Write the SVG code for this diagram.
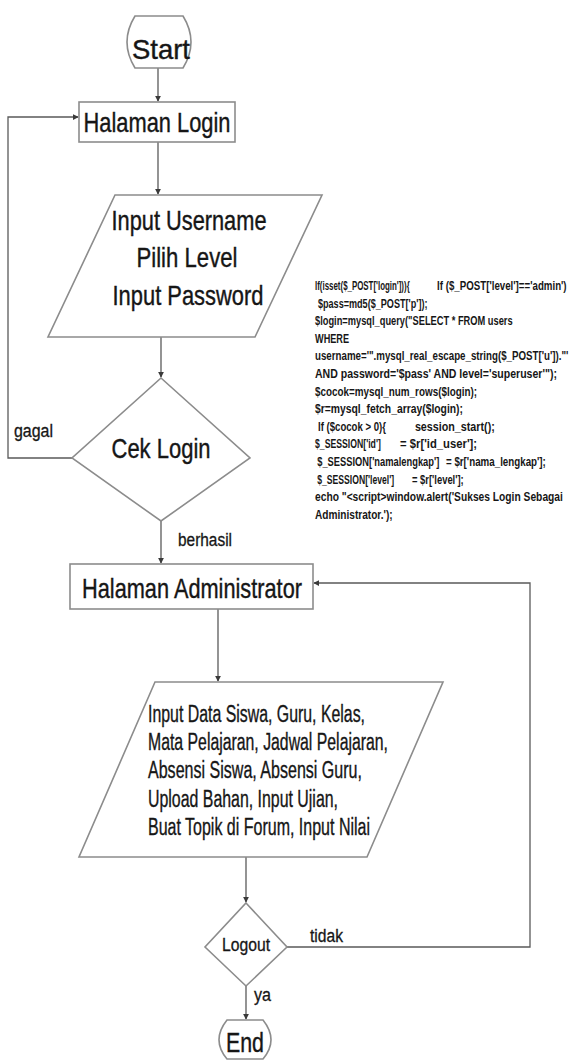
<svg xmlns="http://www.w3.org/2000/svg" width="572" height="1061" viewBox="0 0 572 1061">
<style>
.shape{fill:#fff;stroke:#8c8c8c;stroke-width:1.6}
.conn{fill:none;stroke:#5a5a5a;stroke-width:1.3}
.t{font-family:"Liberation Sans",Arial,sans-serif;fill:#161616}
.big{font-size:28px;stroke:#161616;stroke-width:0.4}
.mid{font-size:23px;stroke:#161616;stroke-width:0.35}
.lbl{font-size:18px;stroke:#161616;stroke-width:0.3}
.code{font-size:13.5px;font-weight:bold}
</style>
<defs>
<marker id="arr" viewBox="0 0 8 8" refX="7" refY="4" markerWidth="6" markerHeight="6" orient="auto" markerUnits="userSpaceOnUse">
<path d="M0,0 L8,4 L0,8 z" fill="#3a3a3a"/>
</marker>
</defs>
<rect width="572" height="1061" fill="#fff"/>
<g id="connectors">
<path class="conn" d="M158,68 L158,101" marker-end="url(#arr)"/>
<path class="conn" d="M158,142 L158,194" marker-end="url(#arr)"/>
<path class="conn" d="M161,337 L161,377" marker-end="url(#arr)"/>
<path class="conn" d="M72,458 L8,458 L8,117 L78,117" marker-end="url(#arr)"/>
<path class="conn" d="M161,521 L161,563" marker-end="url(#arr)"/>
<path class="conn" d="M218,609 L218,681" marker-end="url(#arr)"/>
<path class="conn" d="M246,857 L246,902" marker-end="url(#arr)"/>
<path class="conn" d="M287,947 L530,947 L530,583 L314,583" marker-end="url(#arr)"/>
<path class="conn" d="M246,986 L246,1019" marker-end="url(#arr)"/>
</g>
<g id="start">
<path class="shape" d="M135,16 L183,16 Q199,42 183,68 L135,68 Q119,42 135,16 Z"/>
<text class="t big" x="161" y="59" font-size="41" text-anchor="middle" textLength="58" lengthAdjust="spacingAndGlyphs">Start</text>
</g>
<g id="halaman-login">
<rect class="shape" x="79" y="102" width="156" height="40"/>
<text class="t big" x="157" y="132" text-anchor="middle" textLength="147" lengthAdjust="spacingAndGlyphs">Halaman Login</text>
</g>
<g id="input-login">
<path class="shape" d="M115,195 L322,195 L255,337 L48,337 Z"/>
<text class="t big" x="189" y="230" text-anchor="middle" textLength="155" lengthAdjust="spacingAndGlyphs">Input Username</text>
<text class="t big" x="187" y="267" text-anchor="middle" textLength="101" lengthAdjust="spacingAndGlyphs">Pilih Level</text>
<text class="t big" x="188" y="305" text-anchor="middle" textLength="151" lengthAdjust="spacingAndGlyphs">Input Password</text>
</g>
<g id="cek-login">
<path class="shape" d="M161,378 L250,458 L161,521 L72,458 Z"/>
<text class="t big" x="161" y="458" text-anchor="middle" textLength="99" lengthAdjust="spacingAndGlyphs">Cek Login</text>
</g>
<g id="code-note" transform="translate(315,0) scale(0.74,1)">
<text class="t code" x="0" y="290" textLength="128" lengthAdjust="spacingAndGlyphs">If(isset($_POST['login'])){</text>
<text class="t code" x="165" y="290" textLength="175" lengthAdjust="spacingAndGlyphs">If ($_POST['level']=='admin')</text>
<text class="t code" x="4" y="307.6" textLength="148" lengthAdjust="spacingAndGlyphs">$pass=md5($_POST['p']);</text>
<text class="t code" x="0" y="325.2" textLength="267" lengthAdjust="spacingAndGlyphs">$login=mysql_query("SELECT * FROM users</text>
<text class="t code" x="0" y="342.8" textLength="46" lengthAdjust="spacingAndGlyphs">WHERE</text>
<text class="t code" x="0" y="360.4" transform="scale(0.8,1)" textLength="428" lengthAdjust="spacingAndGlyphs">username='".mysql_real_escape_string($_POST['u'])."'</text>
<text class="t code" x="0" y="378" textLength="327" lengthAdjust="spacingAndGlyphs">AND password='$pass' AND level='superuser'");</text>
<text class="t code" x="0" y="395.6" textLength="219" lengthAdjust="spacingAndGlyphs">$cocok=mysql_num_rows($login);</text>
<text class="t code" x="0" y="413.2" textLength="200" lengthAdjust="spacingAndGlyphs">$r=mysql_fetch_array($login);</text>
<text class="t code" x="4" y="430.8" textLength="92" lengthAdjust="spacingAndGlyphs">If ($cocok &gt; 0){</text>
<text class="t code" x="135" y="430.8" textLength="108" lengthAdjust="spacingAndGlyphs">session_start();</text>
<text class="t code" x="0" y="448.4" textLength="89" lengthAdjust="spacingAndGlyphs">$_SESSION['id']</text>
<text class="t code" x="115" y="448.4" textLength="104" lengthAdjust="spacingAndGlyphs">= $r['id_user'];</text>
<text class="t code" x="3" y="466" textLength="165" lengthAdjust="spacingAndGlyphs">$_SESSION['namalengkap']</text>
<text class="t code" x="177" y="466" textLength="135" lengthAdjust="spacingAndGlyphs">= $r['nama_lengkap'];</text>
<text class="t code" x="3" y="483.6" textLength="104" lengthAdjust="spacingAndGlyphs">$_SESSION['level']</text>
<text class="t code" x="131" y="483.6" textLength="70" lengthAdjust="spacingAndGlyphs">= $r['level'];</text>
<text class="t code" x="0" y="501.2" textLength="335" lengthAdjust="spacingAndGlyphs">echo "&lt;script&gt;window.alert('Sukses Login Sebagai</text>
<text class="t code" x="0" y="518.8" textLength="105" lengthAdjust="spacingAndGlyphs">Administrator.');</text>
</g>
<g id="halaman-admin">
<rect class="shape" x="70" y="564" width="243" height="45"/>
<text class="t big" x="192" y="598" text-anchor="middle" textLength="220" lengthAdjust="spacingAndGlyphs">Halaman Administrator</text>
</g>
<g id="input-admin">
<path class="shape" d="M155,682 L443,682 L367,857 L79,857 Z"/>
<text class="t mid" x="148" y="722" textLength="217" lengthAdjust="spacingAndGlyphs">Input Data Siswa, Guru, Kelas,</text>
<text class="t mid" x="148" y="750" textLength="240" lengthAdjust="spacingAndGlyphs">Mata Pelajaran, Jadwal Pelajaran,</text>
<text class="t mid" x="148" y="778" textLength="214" lengthAdjust="spacingAndGlyphs">Absensi Siswa, Absensi Guru,</text>
<text class="t mid" x="148" y="807" textLength="190" lengthAdjust="spacingAndGlyphs">Upload Bahan, Input Ujian,</text>
<text class="t mid" x="148" y="835" textLength="222" lengthAdjust="spacingAndGlyphs">Buat Topik di Forum, Input Nilai</text>
</g>
<g id="logout">
<path class="shape" d="M246,903 L287,947 L246,986 L205,947 Z"/>
<text class="t lbl" x="246" y="951" font-size="19" text-anchor="middle" textLength="48" lengthAdjust="spacingAndGlyphs">Logout</text>
</g>
<g id="end">
<path class="shape" d="M227,1020 L263,1020 Q279,1040 263,1059 L227,1059 Q211,1040 227,1020 Z"/>
<text class="t big" x="245" y="1052" font-size="30" text-anchor="middle" textLength="38" lengthAdjust="spacingAndGlyphs">End</text>
</g>
<g id="labels">
<text class="t lbl" x="14" y="437" textLength="39" lengthAdjust="spacingAndGlyphs">gagal</text>
<text class="t lbl" x="178" y="546" font-size="20" textLength="54" lengthAdjust="spacingAndGlyphs">berhasil</text>
<text class="t lbl" x="310" y="942" textLength="33" lengthAdjust="spacingAndGlyphs">tidak</text>
<text class="t lbl" x="254" y="1001" textLength="17" lengthAdjust="spacingAndGlyphs">ya</text>
</g>
</svg>
